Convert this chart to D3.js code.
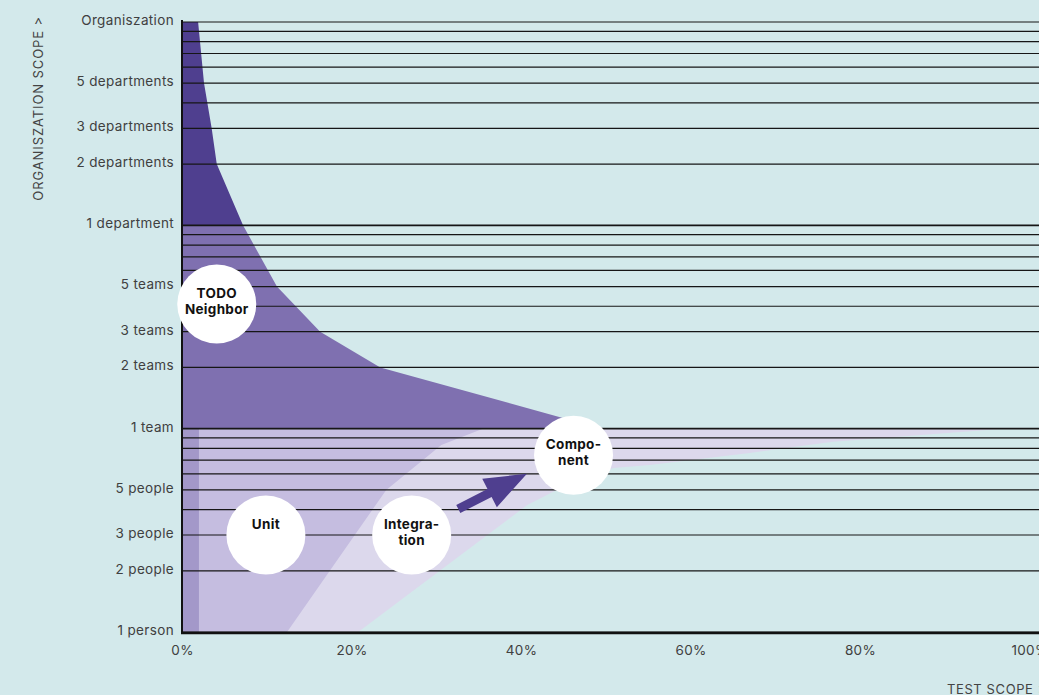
<!DOCTYPE html>
<html>
<head>
<meta charset="utf-8">
<script src="https://cdn.jsdelivr.net/npm/d3@7"></script>
<style>
  body { margin: 0; background: #d3e9eb; }
  svg { display: block; font-family: Inter, "Noto Sans", sans-serif; }
</style>
</head>
<body>
<div id="chart"></div>
<script>
const width = 1039;
const height = 695;

// organisation scope (people, log scale) and labels
const yTickValues = [1000, 500, 300, 200, 100, 50, 30, 20, 10, 5, 3, 2, 1];
const yTickLabels = ["Organiszation", "5 departments", "3 departments", "2 departments", "1 department",
  "5 teams", "3 teams", "2 teams", "1 team", "5 people", "3 people", "2 people", "1 person"];
const gridValues = [1, 2, 3, 4, 5, 6, 7, 8, 9, 10, 20, 30, 40, 50, 60, 70, 80, 90, 100,
  200, 300, 400, 500, 600, 700, 800, 900, 1000];
const xTickValues = [0, 20, 40, 60, 80, 100];

// area edges: [people, test scope %]
const orgEdge = [[1000, 1.9], [500, 2.6], [300, 3.5], [200, 4.1], [100, 7.2]];
const neighborEdge = [[100, 7.2], [50, 11.2], [30, 16.3], [20, 23.4], [10, 49.5]];
const componentEdge = [[1, 20.8], [4.2, 40.7], [5, 44.2], [6.4, 50.9], [6.63, 55.2], [7.6, 67], [8.63, 76.8], [10, 96.9]];
const integrationEdge = [[1, 12.4], [5, 24.1], [8.3, 30.6], [10, 35.5]];
const unitEdge = [[1, 2], [10, 2]];

// bubbles: [test scope %, people, lines]
const bubbles = [
  [4.1, 41, ["TODO", "Neighbor"]],
  [9.9, 3, ["Unit", ""]],
  [27.1, 3, ["Integra-", "tion"]],
  [46.2, 7.4, ["Compo-", "nent"]]
];
const arrowFrom = [32.6, 4.03];
const arrowTo = [40.7, 6];

const x = d3.scaleLinear().domain([0, 100]).range([182, 1029.5]);
const y = d3.scaleLog().domain([1, 1000]).range([632, 22]);

const svg = d3.select("#chart").append("svg")
  .attr("width", width).attr("height", height)
  .style("background", "#d3e9eb");

const area = d3.area()
  .y(d => y(d[0]))
  .x0(x(0))
  .x1(d => x(d[1]));

// lightest first so the darker bands sit on top
[[componentEdge, "#dcd8ec"], [integrationEdge, "#c5bde0"], [unitEdge, "#a398c9"],
 [neighborEdge, "#7f70b0"], [orgEdge, "#4f3f8f"]].forEach(([edge, color]) => {
  svg.append("path").datum(edge).attr("d", area).attr("fill", color);
});

// grid
svg.append("g").selectAll("line")
  .data(gridValues)
  .enter()
  .append("line")
  .attr("x1", x(0)).attr("x2", width + 10)
  .attr("y1", d => y(d)).attr("y2", d => y(d))
  .attr("stroke", "#161616")
  .attr("stroke-width", d => (d === 10 || d === 100) ? 1.8 : 1.2);

// axes lines
svg.append("line").attr("x1", x(0)).attr("x2", x(0)).attr("y1", 20).attr("y2", 634)
  .attr("stroke", "#111").attr("stroke-width", 2);
svg.append("line").attr("x1", x(0) - 1).attr("x2", width + 10).attr("y1", 633).attr("y2", 633)
  .attr("stroke", "#111").attr("stroke-width", 2.4);

const yAxis = svg.append("g")
  .attr("transform", `translate(${x(0)},0)`)
  .call(d3.axisLeft(y).tickValues(yTickValues).tickFormat((d, i) => yTickLabels[i]).tickSize(0).tickPadding(8));
yAxis.select(".domain").remove();
yAxis.selectAll("text").attr("dy", "0.18em")
  .style("font-size", "13.5px").style("fill", "#404040").style("letter-spacing", "0.35px")
  .style("font-family", "Inter, sans-serif");

const xAxis = svg.append("g")
  .attr("transform", "translate(0,633)")
  .call(d3.axisBottom(x).tickValues(xTickValues).tickFormat(d => d + "%").tickSize(0).tickPadding(12));
xAxis.select(".domain").remove();
xAxis.selectAll("text")
  .style("font-size", "13.5px").style("fill", "#404040").style("letter-spacing", "0.35px")
  .style("font-family", "Inter, sans-serif");

// axis titles
svg.append("text")
  .attr("transform", "translate(43,16) rotate(-90)")
  .attr("text-anchor", "end")
  .style("font-size", "13px").style("fill", "#444").style("letter-spacing", "0.9px")
  .text("ORGANISZATION SCOPE  >");
svg.append("text")
  .attr("x", 947).attr("y", 694)
  .style("font-size", "13px").style("fill", "#444").style("letter-spacing", "0.6px")
  .text("TEST SCOPE  >");

// arrow
const ax0 = x(arrowFrom[0]), ay0 = y(arrowFrom[1]);
const ax1 = x(arrowTo[0]), ay1 = y(arrowTo[1]);
const ang = Math.atan2(ay1 - ay0, ax1 - ax0) * 180 / Math.PI;
const len = Math.hypot(ax1 - ax0, ay1 - ay0);
const headLen = 42, headHalf = 16, shaftHalf = 4.5;
svg.append("path")
  .attr("transform", `translate(${ax0},${ay0}) rotate(${ang})`)
  .attr("d", `M0,${-shaftHalf} L${len - headLen},${-shaftHalf} L${len - headLen},${-headHalf} L${len},0 ` +
             `L${len - headLen},${headHalf} L${len - headLen},${shaftHalf} L0,${shaftHalf} Z`)
  .attr("fill", "#4f3f8f");

// bubbles
const bub = svg.append("g").selectAll("g")
  .data(bubbles)
  .enter()
  .append("g")
  .attr("transform", d => `translate(${x(d[0])},${y(d[1])})`);
bub.append("circle").attr("r", 39.5).attr("fill", "#fff");
bub.each(function (d) {
  d3.select(this).selectAll("text")
    .data(d[2])
    .enter()
    .append("text")
    .attr("text-anchor", "middle")
    .attr("y", (t, i) => -11 + i * 16)
    .attr("dy", "0.35em")
    .style("font-size", "13.5px").style("font-weight", "700").style("fill", "#111")
    .style("letter-spacing", "0.3px")
    .text(t => t);
});
</script>
</body>
</html>
